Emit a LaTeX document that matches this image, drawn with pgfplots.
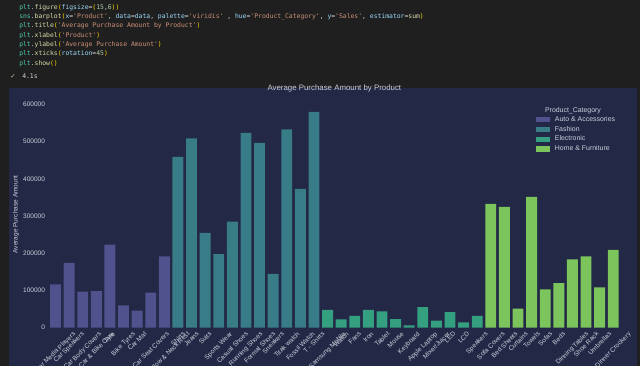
\documentclass[border=0pt]{standalone}
\usepackage{pgfplots}
\pgfplotsset{compat=1.18}
\usepackage{graphicx}
\usepackage{fontspec}
\setmainfont{Liberation Sans}
\newfontfamily\codefont{DejaVu Sans Mono}
\newfontfamily\symfont{DejaVu Sans}

\definecolor{codebg}{RGB}{31,31,31}
\definecolor{figbg}{RGB}{34,40,70}
\definecolor{cauto}{RGB}{80,82,142}
\definecolor{cfash}{RGB}{56,124,136}
\definecolor{celec}{RGB}{52,160,128}
\definecolor{chome}{RGB}{124,196,92}
\definecolor{txt}{RGB}{205,208,220}
\definecolor{cplt}{RGB}{78,201,176}
\definecolor{cfun}{RGB}{220,220,170}
\definecolor{cstr}{RGB}{206,145,120}
\definecolor{cpar}{RGB}{156,220,254}
\definecolor{cnum}{RGB}{181,206,168}
\definecolor{cbr}{RGB}{255,215,0}
\definecolor{cdef}{RGB}{212,212,212}

\newcommand\cP{\textcolor{cplt}{plt}}
\newcommand\cF[1]{\textcolor{cfun}{#1}}
\newcommand\cS[1]{\textcolor{cstr}{#1}}
\newcommand\cA[1]{\textcolor{cpar}{#1}}
\newcommand\cN[1]{\textcolor{cnum}{#1}}
\newcommand\cB[1]{\textcolor{cbr}{#1}}
\newcommand\rl[1]{\rotatebox{45}{#1}}

\pgfplotsset{myleg/.style={legend image code/.code={\fill[##1] (0pt,-1.9pt) rectangle (10.5pt,1.9pt); \path (13.5pt,0pt);}}}

\begin{document}
\begin{tikzpicture}[x=0.75pt,y=-0.75pt]
\useasboundingbox (0,0) rectangle (640,366);
\clip (0,0) rectangle (640,366);
\fill[codebg] (0,0) rectangle (640,366);
\fill[figbg] (9,88) rectangle (637,370);

\begin{scope}[every node/.style={anchor=west, inner sep=0pt, font=\codefont\fontsize{4.8}{5}\selectfont, text=cdef}]
\node at (19,7.3) {\cP.\cF{figure}\cB{(}\cA{figsize}=\cB{(}\cN{15},\cN{6}\cB{))}};
\node at (19,16.7) {\textcolor{cplt}{sns}.\cF{barplot}\cB{(}\cA{x}=\cS{'Product'}, \cA{data}=\cA{data}, \cA{palette}=\cS{'viridis'} , \cA{hue}=\cS{'Product\_Category'}, \cA{y}=\cS{'Sales'}, \cA{estimator}=\cF{sum}\cB{)}};
\node at (19,26) {\cP.\cF{title}\cB{(}\cS{'Average Purchase Amount by Product'}\cB{)}};
\node at (19,35.7) {\cP.\cF{xlabel}\cB{(}\cS{'Product'}\cB{)}};
\node at (19,45) {\cP.\cF{ylabel}\cB{(}\cS{'Average Purchase Amount'}\cB{)}};
\node at (19,54) {\cP.\cF{xticks}\cB{(}\cA{rotation}=\cN{45}\cB{)}};
\node at (19,63.3) {\cP.\cF{show}\cB{()}};
\node at (10,76) {\textcolor{cnum}{\symfont ✓}};
\node at (22,76) {\textcolor{cdef}{4.1s}};
\end{scope}

\begin{axis}[
  at={(36.525pt,-245.775pt)}, anchor=south west,
  scale only axis, width=428.5pt, height=169.9pt,
  xmin=-0.5, xmax=41.5, ymin=0, ymax=609000,
  axis line style={draw=none},
  major tick length=0pt,
  ytick={0,100000,200000,300000,400000,500000,600000},
  scaled y ticks=false,
  /pgf/number format/assume math mode=true,
  yticklabel style={/pgf/number format/fixed, /pgf/number format/1000 sep={}, font=\fontsize{4.9}{5}\selectfont, text=txt, inner sep=0pt, xshift=-2.6pt},
  xtick={0,...,41},
  xticklabels={\rl{Car Media Players},\rl{Car Speakers},\rl{Car Body Covers},\rl{Car \& Bike Care},\rl{Tyre},\rl{Bike Tyres},\rl{Car Mat},\rl{Car Seat Covers},\rl{Car Pillow \& Neck Rest},
    \rl{Shirts},\rl{Jeans},\rl{Suits},\rl{Sports Wear},\rl{Casual Shoes},\rl{Running Shoes},\rl{Formal Shoes},\rl{Sneakers},\rl{Titak watch},\rl{Fossil Watch},\rl{T - Shirts},
    \rl{Samsung Mobile},\rl{Watch},\rl{Fans},\rl{Iron},\rl{Tablet},\rl{Mouse},\rl{Keyboard},\rl{Apple Laptop},\rl{Mixer/Juicer},\rl{LED},\rl{LCD},\rl{Speakers},
    \rl{Sofa Covers},\rl{Bed Sheets},\rl{Curtains},\rl{Towels},\rl{Sofas},\rl{Beds},\rl{Dinning Tables},\rl{Shoe Rack},\rl{Umbrellas},\rl{Dinner Crockery}},
  xticklabel style={anchor=north, inner sep=0pt, font=\fontsize{4.9}{5}\selectfont, text=txt, yshift=-2.5pt},
  ybar, bar width=0.8, bar shift=0pt,
  title={Average Purchase Amount by Product},
  title style={at={(axis description cs:0.5,1.021)}, anchor=center, font=\fontsize{5.9}{6}\selectfont, text=txt},
  ylabel={Average Purchase Amount},
  ylabel style={at={(axis description cs:-0.0572,0.5)}, anchor=center, font=\fontsize{4.9}{5}\selectfont, text=txt},
  legend style={at={(axis description cs:0.853,0.937)}, anchor=north west, draw=none, fill=none,
    font=\fontsize{5.2}{5.5}\selectfont, text=txt, row sep=1.9pt, inner sep=0pt,
    nodes={inner sep=0.5pt, text height=3.6pt, text depth=0.9pt}},
  legend cell align=left,
]
\addplot[fill=cauto, draw=none, myleg] coordinates {
(0,116700) (1,174000) (2,97000) (3,98600) (4,223000) (5,60000) (6,45700) (7,94000) (8,192000)};
\addlegendentry{Auto \& Accessories}
\addplot[fill=cfash, draw=none, myleg] coordinates {
(9,459000) (10,509000) (11,254600) (12,198000) (13,285000) (14,524000) (15,497000) (16,145000) (17,533000) (18,373000) (19,580000)};
\addlegendentry{Fashion}
\addplot[fill=celec, draw=none, myleg] coordinates {
(20,48000) (21,22600) (22,32000) (23,48000) (24,44000) (25,23000) (26,6400) (27,55600) (28,19000) (29,42000) (30,14500) (31,32000)};
\addlegendentry{Electronic}
\addplot[fill=chome, draw=none, myleg] coordinates {
(32,333000) (33,325000) (34,51000) (35,352000) (36,103000) (37,120000) (38,184000) (39,192000) (40,108600) (41,209000)};
\addlegendentry{Home \& Furniture}
\node[font=\fontsize{5.2}{5.5}\selectfont, text=txt] at (axis description cs:0.9177,0.957) {Product\_Category};
\end{axis}
\end{tikzpicture}
\end{document}
